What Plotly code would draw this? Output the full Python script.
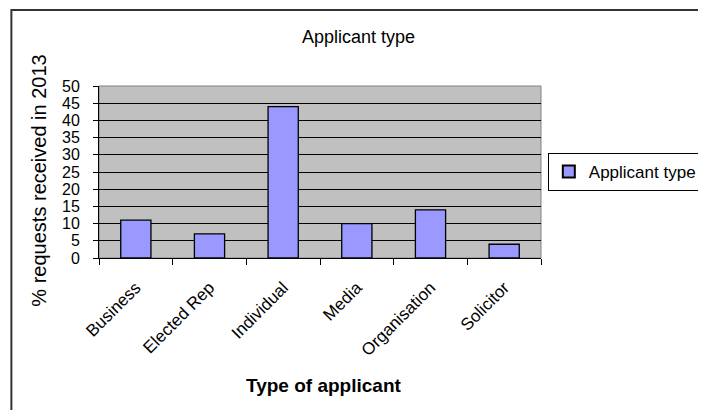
import plotly.graph_objects as go

categories = ["Business", "Elected Rep", "Individual", "Media", "Organisation", "Solicitor"]
values = [11, 7, 44, 10, 14, 4]
series_name = "Applicant type"
chart_title = "Applicant type"
x_title = "Type of applicant"
y_title = "% requests received in 2013"
y_ticks = [0, 5, 10, 15, 20, 25, 30, 35, 40, 45, 50]

FONT = "Liberation Sans, Arial, sans-serif"

fig = go.Figure()
fig.add_trace(go.Bar(
    x=categories, y=values, name=series_name,
    marker=dict(color="#9999FF", line=dict(color="black", width=1.3)),
    showlegend=True,
))

# page is offset by the body margin (8px); compensate
OFF = 8
W, H = 706, 410
PL, PT, PW, PH = 99, 86, 454, 172   # on-screen plot area
L, T = PL - OFF, PT - OFF
R, B = W - L - PW, H - T - PH

def px(x):
    return (x - PL) / PW

def py(y):
    return (PT + PH - y) / PH

fig.update_layout(
    width=W, height=H,
    margin=dict(l=L, r=R, t=T, b=B, pad=0),
    paper_bgcolor="white",
    plot_bgcolor="#C0C0C0",
    bargap=0.59,
    font=dict(family=FONT, size=14, color="black"),
    showlegend=True,
    legend=dict(
        x=px(560), y=py(172), xanchor="left", yanchor="middle",
        bgcolor="white", bordercolor="black", borderwidth=1,
        font=dict(size=17, family=FONT),
        itemsizing="constant",
        itemwidth=30,
    ),
    xaxis=dict(
        type="category",
        tickson="boundaries",
        ticks="outside", ticklen=6, tickcolor="black", tickwidth=1,
        showline=True, linecolor="black", linewidth=1,
        tickangle=-45,
        tickfont=dict(size=17, family=FONT),
        ticklabelstandoff=12,
        showgrid=False,
    ),
    yaxis=dict(
        range=[0, 50],
        tickvals=y_ticks,
        ticks="outside", ticklen=5, tickcolor="black", tickwidth=1,
        showline=True, linecolor="black", linewidth=1,
        showgrid=True, gridcolor="black", gridwidth=1,
        tickfont=dict(size=16, family=FONT),
        ticklabelstandoff=10,
        zeroline=False,
    ),
    shapes=[
        dict(type="rect", xref="paper", yref="paper", x0=0, x1=1, y0=0, y1=1,
             line=dict(color="#808080", width=1), layer="below"),
        dict(type="rect", xref="paper", yref="paper",
             x0=px(9), x1=px(740), y0=py(440), y1=py(10),
             line=dict(color="#333333", width=2)),
    ],
    annotations=[
        dict(text=chart_title, xref="paper", yref="paper", x=px(366), y=py(37),
             showarrow=False, xanchor="center", yanchor="middle",
             font=dict(size=18, family=FONT)),
        dict(text=y_title, xref="paper", yref="paper", x=px(37), y=py(181),
             showarrow=False, xanchor="center", yanchor="middle", textangle=-90,
             font=dict(size=20, family=FONT)),
        dict(text="<b>" + x_title + "</b>", xref="paper", yref="paper", x=px(330), y=py(385),
             showarrow=False, xanchor="center", yanchor="middle",
             font=dict(size=19, family=FONT)),
    ],
)

fig.write_html("out.html")
